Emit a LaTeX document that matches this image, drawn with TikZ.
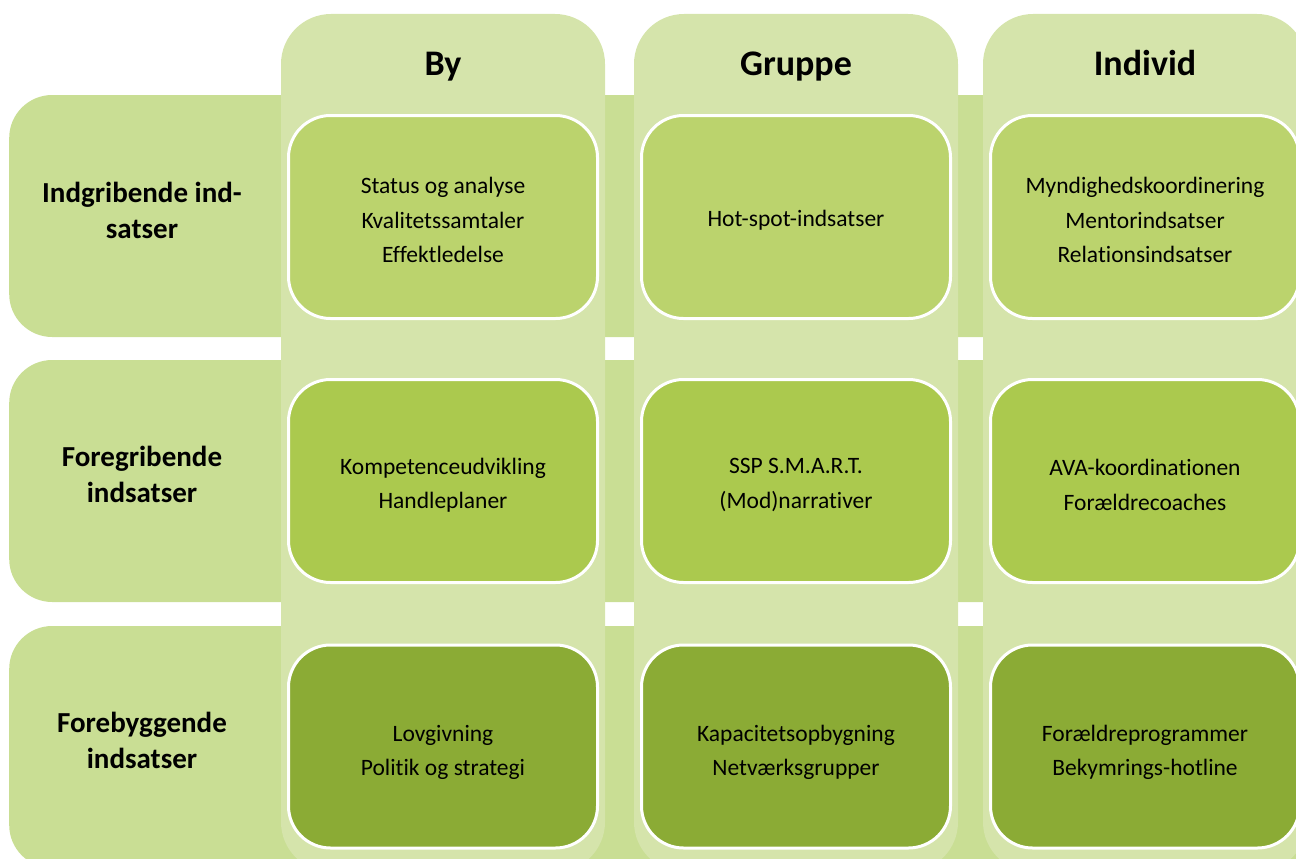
\documentclass[tikz,border=0pt]{standalone}
\usepackage{fontspec}
\setmainfont{Carlito}[Ligatures=NoCommon]
\definecolor{rowbar}{HTML}{C9DE94}
\definecolor{colbar}{HTML}{D5E4AB}
\definecolor{cellA}{HTML}{BBD36D}
\definecolor{cellB}{HTML}{ABC94E}
\definecolor{cellC}{HTML}{8BAB35}
\begin{document}
\begin{tikzpicture}[x=1pt,y=-1pt,
  rowstrip/.style={fill=rowbar, rounded corners=43pt, minimum width=1400pt, minimum height=242pt, inner sep=0pt, anchor=west},
  colstrip/.style={fill=colbar, rounded corners=50pt, minimum width=324pt, minimum height=858pt, inner sep=0pt},
  cellbox/.style={draw=white, line width=3pt, rounded corners=42pt, minimum width=309pt, minimum height=203pt, inner sep=0pt},
  celltext/.style={align=center, inner sep=0pt, font=\fontsize{23.5}{34.5}\selectfont},
  rowlabel/.style={align=center, font=\fontsize{29}{36}\selectfont\bfseries},
  header/.style={font=\fontsize{36}{43}\selectfont\bfseries, anchor=base}
]
\useasboundingbox (0,0) rectangle (1296,859);
\clip (0,0) rectangle (1296,859);
% row strips
\node[rowstrip] (r1) at (9,216) {};
\node[rowstrip] (r2) at (9,481) {};
\node[rowstrip] (r3) at (9,747) {};
% column strips
\node[colstrip] (c1) at (443,443) {};
\node[colstrip] (c2) at (796,443) {};
\node[colstrip] (c3) at (1145,443) {};
% headers
\node[header] (hBy) at (443,75) {By};
\node[header] (hGr) at (796,75) {Gruppe};
\node[header] (hIn) at (1145,75) {Individ};
% row labels
\node[rowlabel] (l1) at (142,210) {Indgribende ind-\\satser};
\node[rowlabel] (l2) at (142,474) {Foregribende\\indsatser};
\node[rowlabel] (l3) at (142,740) {Forebyggende\\indsatser};
% cells
\node[cellbox, fill=cellA] (a1) at (443,217) {};
\node[cellbox, fill=cellA] (a2) at (796,217) {};
\node[cellbox, fill=cellA] (a3) at (1145,217) {};
\node[cellbox, fill=cellB] (b1) at (443,481) {};
\node[cellbox, fill=cellB] (b2) at (796,481) {};
\node[cellbox, fill=cellB] (b3) at (1145,481) {};
\node[cellbox, fill=cellC] (d1) at (443,746.5) {};
\node[cellbox, fill=cellC] (d2) at (796,746.5) {};
\node[cellbox, fill=cellC] (d3) at (1145,746.5) {};
% cell texts
\node[celltext] (a1t) at ([yshift=-3pt]a1.center) {Status og analyse\\Kvalitetssamtaler\\Effektledelse};
\node[celltext] (a2t) at ([yshift=-3pt]a2.center) {Hot-spot-indsatser};
\node[celltext] (a3t) at ([yshift=-3pt]a3.center) {Myndighedskoordinering\\Mentorindsatser\\Relationsindsatser};
\node[celltext] (b1t) at ([yshift=-4pt]b1.center) {Kompetenceudvikling\\Handleplaner};
\node[celltext] (b2t) at ([yshift=-4pt]b2.center) {SSP S.M.A.R.T.\\(Mod)narrativer};
\node[celltext] (b3t) at ([yshift=-4pt]b3.center) {AVA-koordinationen\\Forældrecoaches};
\node[celltext] (d1t) at ([yshift=-6pt]d1.center) {Lovgivning\\Politik og strategi};
\node[celltext] (d2t) at ([yshift=-6pt]d2.center) {Kapacitetsopbygning\\Netværksgrupper};
\node[celltext] (d3t) at ([yshift=-6pt]d3.center) {Forældreprogrammer\\Bekymrings-hotline};
\end{tikzpicture}
\end{document}
